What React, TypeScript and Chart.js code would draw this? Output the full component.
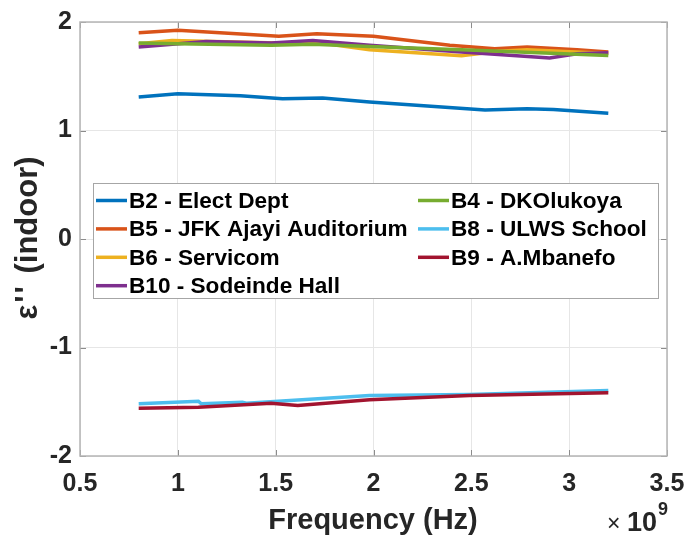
import React, { useEffect, useRef } from "react";
import { Chart, registerables } from "chart.js";

Chart.register(...registerables);

// Building labels, in plotting order
const SERIES_NAMES = [
  "B2 - Elect Dept",
  "B5 - JFK Ajayi Auditorium",
  "B6 - Servicom",
  "B10 - Sodeinde Hall",
  "B4 - DKOlukoya",
  "B8 - ULWS School",
  "B9 - A.Mbanefo",
];
const SERIES_COLORS = ["#0072BD", "#D95319", "#EDB120", "#7E2F8E", "#77AC30", "#4DBEEE", "#A2142F"];

// Frequency (Hz) and imaginary permittivity for each building
const B2_FREQ = [0.8e9, 1.0e9, 1.32e9, 1.535e9, 1.74e9, 1.98e9, 2.57e9, 2.785e9, 2.92e9, 3.2e9];
const B2_EPS = [1.308, 1.338, 1.32, 1.292, 1.3, 1.262, 1.19, 1.2, 1.194, 1.16];

const B5_FREQ = [0.8e9, 1.0e9, 1.516e9, 1.71e9, 2.0e9, 2.39e9, 2.62e9, 2.785e9, 3.04e9, 3.2e9];
const B5_EPS = [1.9, 1.923, 1.868, 1.892, 1.868, 1.785, 1.754, 1.77, 1.745, 1.723];

const B6_FREQ = [0.8e9, 0.97e9, 1.516e9, 1.71e9, 1.98e9, 2.45e9, 2.64e9, 2.785e9, 3.2e9];
const B6_EPS = [1.8, 1.83, 1.806, 1.81, 1.745, 1.69, 1.73, 1.745, 1.71];

const B10_FREQ = [0.8e9, 1.145e9, 1.477e9, 1.69e9, 1.98e9, 2.45e9, 2.9e9, 3.04e9, 3.2e9];
const B10_EPS = [1.77, 1.82, 1.806, 1.83, 1.785, 1.723, 1.668, 1.708, 1.717];

const B4_FREQ = [0.8e9, 1.0e9, 1.477e9, 1.69e9, 1.98e9, 2.45e9, 3.2e9];
const B4_EPS = [1.806, 1.8, 1.785, 1.794, 1.775, 1.745, 1.692];

const B8_FREQ = [0.8e9, 1.105e9, 1.12e9, 1.33e9, 1.35e9, 1.98e9, 2.49e9, 3.2e9];
const B8_EPS = [-1.519, -1.495, -1.519, -1.504, -1.513, -1.442, -1.433, -1.396];

const B9_FREQ = [0.8e9, 1.105e9, 1.477e9, 1.613e9, 1.98e9, 2.49e9, 3.2e9];
const B9_EPS = [-1.559, -1.55, -1.513, -1.535, -1.482, -1.442, -1.418];

const SERIES_FREQ = [B2_FREQ, B5_FREQ, B6_FREQ, B10_FREQ, B4_FREQ, B8_FREQ, B9_FREQ];
const SERIES_EPS = [B2_EPS, B5_EPS, B6_EPS, B10_EPS, B4_EPS, B8_EPS, B9_EPS];

const X_MIN = 0.5e9;
const X_MAX = 3.5e9;
const X_STEP = 0.5e9;
const Y_MIN = -2;
const Y_MAX = 2;
const Y_STEP = 1;

const X_TITLE = "Frequency (Hz)";
const Y_TITLE_SYMBOL = "ε''";
const Y_TITLE_REST = " (indoor)";

const FONT = "'Liberation Sans', Arial, Helvetica, sans-serif";
const TEXT_COLOR = "#262626";

// Frame, inward ticks, two-column legend and axis titles
const decorations = {
  id: "decorations",
  afterDraw(chart: any) {
    const { ctx, chartArea } = chart;
    const { left, right, top, bottom } = chartArea;
    const xs = chart.scales.x;
    const ys = chart.scales.y;
    ctx.save();

    // inward tick marks on all four sides
    ctx.strokeStyle = "#8c8c8c";
    ctx.lineWidth = 1;
    const tl = 6;
    ctx.beginPath();
    for (let v = X_MIN; v <= X_MAX + 1; v += X_STEP) {
      const px = Math.round(xs.getPixelForValue(v)) + 0.5;
      ctx.moveTo(px, bottom);
      ctx.lineTo(px, bottom - tl);
      ctx.moveTo(px, top);
      ctx.lineTo(px, top + tl);
    }
    for (let v = Y_MIN; v <= Y_MAX; v += Y_STEP) {
      const py = Math.round(ys.getPixelForValue(v)) + 0.5;
      ctx.moveTo(left, py);
      ctx.lineTo(left + tl, py);
      ctx.moveTo(right, py);
      ctx.lineTo(right - tl, py);
    }
    ctx.stroke();

    // axes box
    ctx.strokeStyle = "#b5b5b5";
    ctx.lineWidth = 1.5;
    ctx.strokeRect(left, top, right - left, bottom - top);

    // legend
    const boxL = 93, boxT = 183, boxR = 658, boxB = 298;
    ctx.fillStyle = "#ffffff";
    ctx.fillRect(boxL, boxT, boxR - boxL, boxB - boxT);
    ctx.strokeStyle = "#a6a6a6";
    ctx.lineWidth = 1;
    ctx.strokeRect(boxL + 0.5, boxT + 0.5, boxR - boxL, boxB - boxT);
    const rowY0 = 200.5;
    const rowStep = 28.4;
    const cols = [
      { lineX: 96, textX: 129, items: [0, 1, 2, 3] },
      { lineX: 418, textX: 451, items: [4, 5, 6] },
    ];
    ctx.font = `bold 22.6px ${FONT}`;
    ctx.textBaseline = "middle";
    ctx.textAlign = "left";
    cols.forEach((col) => {
      col.items.forEach((idx, r) => {
        const y = rowY0 + r * rowStep;
        ctx.strokeStyle = SERIES_COLORS[idx];
        ctx.lineWidth = 3.5;
        ctx.beginPath();
        ctx.moveTo(col.lineX, y);
        ctx.lineTo(col.lineX + 31, y);
        ctx.stroke();
        ctx.fillStyle = "#000000";
        ctx.fillText(SERIES_NAMES[idx], col.textX, y + 1);
      });
    });

    // x axis title
    ctx.fillStyle = TEXT_COLOR;
    ctx.font = `bold 29px ${FONT}`;
    ctx.textAlign = "center";
    ctx.textBaseline = "middle";
    ctx.fillText(X_TITLE, 373, 521);

    // y axis title, rotated
    ctx.save();
    ctx.translate(28, 239);
    ctx.rotate(-Math.PI / 2);
    ctx.font = `bold 31px ${FONT}`;
    ctx.textAlign = "left";
    (ctx as any).letterSpacing = "2px";
    const symW = ctx.measureText(Y_TITLE_SYMBOL).width;
    (ctx as any).letterSpacing = "0px";
    const restW = ctx.measureText(Y_TITLE_REST).width;
    const startX = -(symW + restW) / 2;
    (ctx as any).letterSpacing = "2px";
    ctx.fillText(Y_TITLE_SYMBOL, startX, 0);
    (ctx as any).letterSpacing = "0px";
    ctx.fillText(Y_TITLE_REST, startX + symW + 2, 0);
    ctx.restore();

    // exponent marker
    ctx.textAlign = "left";
    ctx.textBaseline = "alphabetic";
    ctx.font = `23px ${FONT}`;
    ctx.fillText("×", 607, 531);
    ctx.font = `bold 27px ${FONT}`;
    ctx.fillText("10", 627, 531);
    ctx.font = `bold 18px ${FONT}`;
    ctx.fillText("9", 658, 515);

    ctx.restore();
  },
};

export default function App() {
  const canvasRef = useRef<HTMLCanvasElement | null>(null);

  useEffect(() => {
    document.body.style.margin = "0";
    const canvas = canvasRef.current;
    if (!canvas) return;
    const n = SERIES_NAMES.length;
    const datasets = SERIES_NAMES.map((name, i) => ({
      label: name,
      data: SERIES_FREQ[i].map((f, k) => ({ x: f, y: SERIES_EPS[i][k] })),
      borderColor: SERIES_COLORS[i],
      backgroundColor: SERIES_COLORS[i],
      borderWidth: 3.5,
      pointRadius: 0,
      tension: 0,
      fill: false,
      order: n - i,
    }));

    const chart = new Chart(canvas, {
      type: "line",
      data: { datasets },
      options: {
        animation: false,
        responsive: false,
        devicePixelRatio: 1,
        layout: { padding: { top: 22, right: 21, left: 0, bottom: 0 } },
        plugins: {
          legend: { display: false },
          tooltip: { enabled: false },
        },
        scales: {
          x: {
            type: "linear",
            min: X_MIN,
            max: X_MAX,
            afterFit: (s: any) => {
              s.height = 80;
              s.paddingLeft = 0;
              s.paddingRight = 0;
            },
            ticks: {
              stepSize: X_STEP,
              autoSkip: false,
              maxRotation: 0,
              padding: 13,
              color: TEXT_COLOR,
              font: { family: FONT, size: 25, weight: "bold" },
              callback: (v: any) => String(Math.round((Number(v) / 1e9) * 10) / 10),
            },
            grid: { color: "#e6e6e6", lineWidth: 1, drawTicks: false },
            border: { display: false },
          },
          y: {
            type: "linear",
            min: Y_MIN,
            max: Y_MAX,
            afterFit: (s: any) => {
              s.width = 80;
              s.paddingTop = 0;
              s.paddingBottom = 0;
            },
            ticks: {
              stepSize: Y_STEP,
              padding: 8,
              color: TEXT_COLOR,
              font: { family: FONT, size: 25, weight: "bold" },
            },
            grid: { color: "#e6e6e6", lineWidth: 1, drawTicks: false },
            border: { display: false },
          },
        },
      },
      plugins: [decorations],
    } as any);

    return () => chart.destroy();
  }, []);

  return (
    <div style={{ width: 688, height: 536, position: "relative", background: "#ffffff" }}>
      <canvas ref={canvasRef} width={688} height={536} style={{ width: 688, height: 536, display: "block" }} />
    </div>
  );
}
